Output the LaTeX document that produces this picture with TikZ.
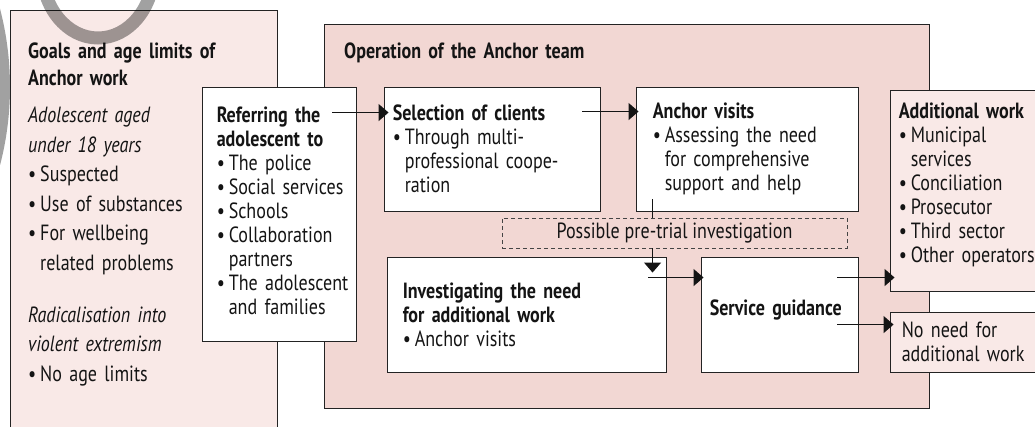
\documentclass[tikz,border=0pt]{standalone}
\usepackage{fontspec}
\setmainfont{PT Sans}[FakeStretch=0.82]
\usetikzlibrary{arrows.meta,calc}
\definecolor{pinklight}{RGB}{249,233,231}
\definecolor{pinkmid}{RGB}{242,215,211}
\definecolor{edge}{RGB}{35,35,35}
\definecolor{ink}{RGB}{20,20,20}
\newcommand\bul{\makebox[12pt][l]{\textbullet}}
\newcommand\ind{\hspace*{12pt}}
\tikzset{
  wbox/.style={ draw=edge, fill=white, line width=0.9pt, inner sep=0pt }
}
\tikzset{
  pbox/.style={ wbox, fill=pinklight }
}
\tikzset{
  dbox/.style={ draw=edge!85, line width=0.8pt, dash pattern=on 4pt off 3pt, inner sep=0pt, text=ink,
    font=\fontsize{22}{24}\selectfont }
}
\tikzset{
  boxtext/.style={ anchor=west, align=left, inner sep=0pt, text width=250pt, text=ink,
    font=\fontsize{22}{24}\selectfont }
}
\tikzset{
  sidetext/.style={ anchor=base west, align=left, inner sep=0pt, text width=245pt, text=ink,
    font=\fontsize{22}{29.5}\selectfont }
}
\tikzset{
  arr/.style={ draw=ink, line width=1.1pt, -{Triangle[length=10pt,width=17pt]} }
}

\begin{document}
\begin{tikzpicture}[x=1pt,y=-1pt]
      \useasboundingbox[fill=white] (0,0) rectangle (1035,427);

      % outer areas
      \node[pbox, minimum width=267pt, minimum height=440pt] (goalsbox) at (143.5,230) {};
      \node[wbox, fill=pinkmid, minimum width=605pt, minimum height=384pt] (team) at (626.5,216) {};

      \node[sidetext, font=\fontsize{22}{27}\selectfont] (goals) at (28,59)
        {\textbf{Goals and age limits of\\Anchor work}};
      \node[sidetext] (teen) at (28,123)
        {\textit{Adolescent aged\\under 18 years}\\
         \bul Suspected\\
         \bul Use of substances\\
         \bul For wellbeing\\
         \ind related problems};
      \node[sidetext] (radical) at (28,322)
        {\textit{Radicalisation into\\violent extremism}\\
         \bul No age limits};
      \node[sidetext, text width=500pt] (teamtitle) at (344,59)
        {\textbf{Operation of the Anchor team}};

      % boxes
      \node[wbox, minimum width=154pt, minimum height=254pt] (refer) at (279,214) {};
      \node[wbox, minimum width=216pt, minimum height=124pt] (sel) at (492,149) {};
      \node[wbox, minimum width=222pt, minimum height=124pt] (anch) at (747,149) {};
      \node[dbox, minimum width=345pt, minimum height=30pt] (pre) at (674.5,233)
        {Possible pre-trial investigation};
      \node[wbox, minimum width=279pt, minimum height=115pt] (inv) at (526.5,314.5) {};
      \node[wbox, minimum width=157pt, minimum height=115pt] (serv) at (779.5,314.5) {};
      \node[pbox, minimum width=160pt, minimum height=201pt] (add) at (970,190.5) {};
      \node[pbox, minimum width=160pt, minimum height=60pt] (noneed) at (970,342) {};

      % box texts
      \node[boxtext] (refertext) at ($(refer.west)+(15,-3)$)
        {\textbf{Referring the\\adolescent to}\\
         \bul The police\\
         \bul Social services\\
         \bul Schools\\
         \bul Collaboration\\
         \ind partners\\
         \bul The adolescent\\
         \ind and families};
      \node[boxtext] (seltext) at ($(sel.west)+(9,0)$)
        {\textbf{Selection of clients}\\
         \bul Through multi-\\
         \ind professional coope-\\
         \ind ration};
      \node[boxtext] (anchtext) at ($(anch.west)+(17,0)$)
        {\textbf{Anchor visits}\\
         \bul Assessing the need\\
         \ind for comprehensive\\
         \ind support and help};
      \node[boxtext] (invtext) at ($(inv.west)+(16,0)$)
        {\textbf{Investigating the need\\for additional work}\\
         \bul Anchor visits};
      \node[boxtext] (servtext) at ($(serv.west)+(9,-5)$)
        {\textbf{Service guidance}};
      \node[boxtext] (addtext) at ($(add.west)+(9,-6)$)
        {\textbf{Additional work}\\
         \bul Municipal\\
         \ind services\\
         \bul Conciliation\\
         \bul Prosecutor\\
         \bul Third sector\\
         \bul Other operators};
      \node[boxtext] (noneedtext) at ($(noneed.west)+(12,0)$)
        {No need for\\additional work};

      % connectors
      \coordinate (drop) at ($(anch.south west)+(17,0)$);
      \draw[arr] ($(refer.north east)+(-24,26)$) -- ($(sel.north west)+(5,26)$);
      \draw[arr] ($(sel.north east)+(-18,25)$) -- ($(anch.north west)+(3,25)$);
      \draw[draw=ink, line width=1.1pt] ($(drop)+(0,-12)$) -- (drop |- pre.north);
      \draw[arr] (drop |- pre.south) -- ($(drop |- inv.north)+(0,16)$);
      \draw[arr] ($(inv.north east)+(-18,21)$) -- ($(serv.north west)+(3,21)$);
      \draw[arr] ($(serv.north east)+(-21,21)$) -- ($(add.west |- serv.north)+(5,21)$);
      \draw[arr] ($(serv.north east)+(-21,68)$) -- ($(noneed.north west)+(4,13)$);

      % grey marks in the corner
      \draw[black, opacity=0.37, line width=13pt] (98,-30) ellipse[x radius=56, y radius=68];
      \draw[black, opacity=0.37, line width=10pt] (-299,87) circle[radius=304];
\end{tikzpicture}
\end{document}
